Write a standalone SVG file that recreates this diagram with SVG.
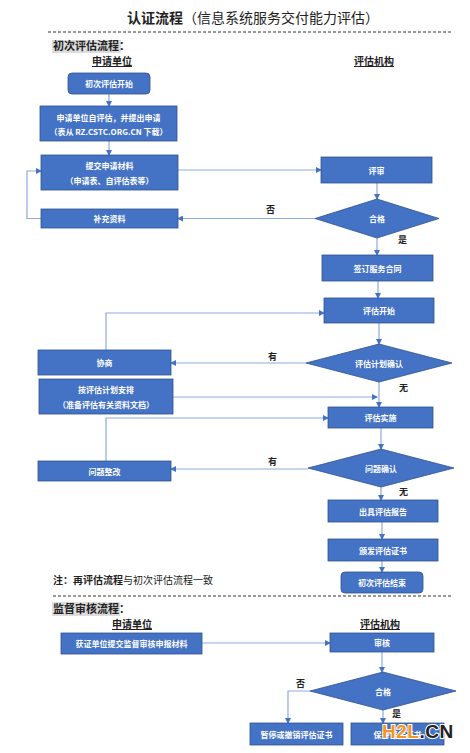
<svg xmlns="http://www.w3.org/2000/svg" width="470" height="753" viewBox="0 0 470 753">
<defs>
<marker id="ah" markerWidth="6" markerHeight="6" refX="5" refY="3" orient="auto" markerUnits="userSpaceOnUse"><path d="M0,0 L6,3 L0,6 Z" fill="#4472C4"/></marker>
<style>
.box{fill:#4472C4;stroke:#2F528F;stroke-width:0.8}
.bt{font-family:"Noto Sans CJK SC","Liberation Sans",sans-serif;font-size:8px;font-weight:bold;fill:#fff;text-anchor:middle;dominant-baseline:central}
.ln{fill:none;stroke:#8EA9DB;stroke-width:1.2;marker-end:url(#ah)}
.lbl{font-family:"Noto Sans CJK SC",sans-serif;font-size:9px;font-weight:bold;fill:#222}
.hdr{font-family:"Noto Sans CJK SC",sans-serif;font-size:10px;font-weight:bold;fill:#222;text-anchor:middle;text-decoration:underline}
.sec{font-family:"Noto Sans CJK SC",sans-serif;font-size:11px;font-weight:bold;fill:#222}
.dash{stroke:#333;stroke-width:1;stroke-dasharray:3,2}
</style>
</defs>
<rect width="470" height="753" fill="#fff"/>
<text x="253" y="23" text-anchor="middle" font-family="'Noto Sans CJK SC',sans-serif" font-size="14" fill="#222"><tspan font-weight="bold">认证流程</tspan>（信息系统服务交付能力评估）</text>
<line class="dash" x1="48" y1="32" x2="452" y2="32"/>
<rect x="52" y="40" width="69" height="13" fill="#ddd"/>
<text class="sec" x="53" y="50">初次评估流程：</text>
<text class="hdr" x="112" y="65">申请单位</text>
<text class="hdr" x="374" y="65">评估机构</text>

<g id="connectors">
<path class="ln" d="M109,94 V106"/>
<path class="ln" d="M109,141 V155"/>
<path class="ln" d="M178,170 H321"/>
<path class="ln" d="M377,183 V199"/>
<path class="ln" d="M315,218.5 H178"/>
<path class="ln" d="M41,218.5 H27 V171 H41"/>
<path class="ln" d="M377,238 V255"/>
<path class="ln" d="M378,281 V298"/>
<path class="ln" d="M379,323 V344"/>
<path class="ln" d="M306,363 H171"/>
<path class="ln" d="M106,350 V313 H324"/>
<path class="ln" d="M173,397 H377"/>
<path class="ln" d="M379,382 V407"/>
<path class="ln" d="M106,461 V418 H328"/>
<path class="ln" d="M381,428 V449"/>
<path class="ln" d="M308,469 H171"/>
<path class="ln" d="M381,487 V500"/>
<path class="ln" d="M382,522 V539"/>
<path class="ln" d="M382,561 V572"/>
<path class="ln" d="M202,643 H330"/>
<path class="ln" d="M382,652 V672"/>
<path class="ln" d="M310,691 H288 V723"/>
<path class="ln" d="M383,710 V723"/>
</g>
<text class="lbl" x="266" y="213">否</text>
<text class="lbl" x="398" y="243">是</text>
<text class="lbl" x="268" y="360">有</text>
<text class="lbl" x="399" y="391">无</text>
<text class="lbl" x="268" y="465">有</text>
<text class="lbl" x="399" y="495">无</text>
<text class="lbl" x="296" y="687">否</text>
<text class="lbl" x="392" y="717">是</text>

<g id="n_start"><rect class="box" x="68" y="73" width="82" height="21" rx="4"/><text class="bt" x="109" y="83.5">初次评估开始</text></g>
<g id="n_self"><rect class="box" x="40" y="106" width="137" height="35"/><text class="bt" x="108.5" y="117">申请单位自评估，并提出申请</text><text class="bt" x="108.5" y="131">（表从 RZ.CSTC.ORG.CN 下载）</text></g>
<g id="n_submit"><rect class="box" x="41" y="155" width="137" height="35"/><text class="bt" x="109.5" y="165.5">提交申请材料</text><text class="bt" x="109.5" y="180">（申请表、自评估表等）</text></g>
<g id="n_review"><rect class="box" x="321" y="157" width="111" height="26"/><text class="bt" x="376.5" y="170">评审</text></g>
<g id="n_ok1"><path class="box" d="M377,199 L439,218.5 L377,238 L315,218.5 Z"/><text class="bt" x="377" y="218.5">合格</text></g>
<g id="n_supp"><rect class="box" x="41" y="209" width="137" height="19"/><text class="bt" x="109.5" y="218.5">补充资料</text></g>
<g id="n_contract"><rect class="box" x="322" y="255" width="111" height="26"/><text class="bt" x="377.5" y="268">签订服务合同</text></g>
<g id="n_evalstart"><rect class="box" x="324" y="298" width="110" height="25"/><text class="bt" x="379" y="310.5">评估开始</text></g>
<g id="n_plan"><path class="box" d="M379,344 L452,363 L379,382 L306,363 Z"/><text class="bt" x="379" y="363">评估计划确认</text></g>
<g id="n_negot"><rect class="box" x="38" y="350" width="133" height="25"/><text class="bt" x="104.5" y="362.5">协商</text></g>
<g id="n_arrange"><rect class="box" x="39" y="379" width="134" height="35"/><text class="bt" x="106" y="389.5">按评估计划安排</text><text class="bt" x="106" y="404">（准备评估有关资料文档）</text></g>
<g id="n_impl"><rect class="box" x="328" y="407" width="105" height="21"/><text class="bt" x="380.5" y="417.5">评估实施</text></g>
<g id="n_issue"><path class="box" d="M381,449 L454,468 L381,487 L308,468 Z"/><text class="bt" x="381" y="468">问题确认</text></g>
<g id="n_fix"><rect class="box" x="38" y="461" width="133" height="20"/><text class="bt" x="104.5" y="471">问题整改</text></g>
<g id="n_report"><rect class="box" x="328" y="500" width="110" height="22"/><text class="bt" x="383" y="511">出具评估报告</text></g>
<g id="n_cert"><rect class="box" x="328" y="539" width="110" height="22"/><text class="bt" x="383" y="550">颁发评估证书</text></g>
<g id="n_end"><rect class="box" x="341" y="572" width="82" height="21" rx="4"/><text class="bt" x="382" y="582.5">初次评估结束</text></g>

<text x="53" y="584" font-family="'Noto Sans CJK SC',sans-serif" font-size="10" fill="#222"><tspan font-weight="bold">注：再评估流程</tspan>与初次评估流程一致</text>
<line class="dash" x1="53" y1="596" x2="452" y2="596"/>
<rect x="52" y="602" width="68" height="14" fill="#ddd"/>
<text class="sec" x="53" y="613">监督审核流程：</text>
<text class="hdr" x="132" y="628">申请单位</text>
<text class="hdr" x="380" y="628">评估机构</text>

<g id="n_submit2"><rect class="box" x="61" y="633" width="141" height="21"/><text class="bt" x="131.5" y="643.5">获证单位提交监督审核申报材料</text></g>
<g id="n_audit"><rect class="box" x="330" y="633" width="104" height="19"/><text class="bt" x="382" y="642.5">审核</text></g>
<g id="n_ok2"><path class="box" d="M383,672 L456,691 L383,710 L310,691 Z"/><text class="bt" x="383" y="691">合格</text></g>
<g id="n_suspend"><rect class="box" x="250" y="723" width="93" height="22"/><text class="bt" x="296.5" y="734">暂停或撤销评估证书</text></g>
<g id="n_keep"><rect class="box" x="351" y="723" width="93" height="22"/><text class="bt" x="397.5" y="734">保持评估证书</text></g>

<text x="382" y="737.5" font-family="'Liberation Sans',sans-serif" font-size="19" font-weight="bold" stroke="#fff" stroke-width="2" paint-order="stroke" letter-spacing="0.5"><tspan fill="#F7941D">H2L</tspan><tspan fill="#222">.CN</tspan></text>
</svg>
